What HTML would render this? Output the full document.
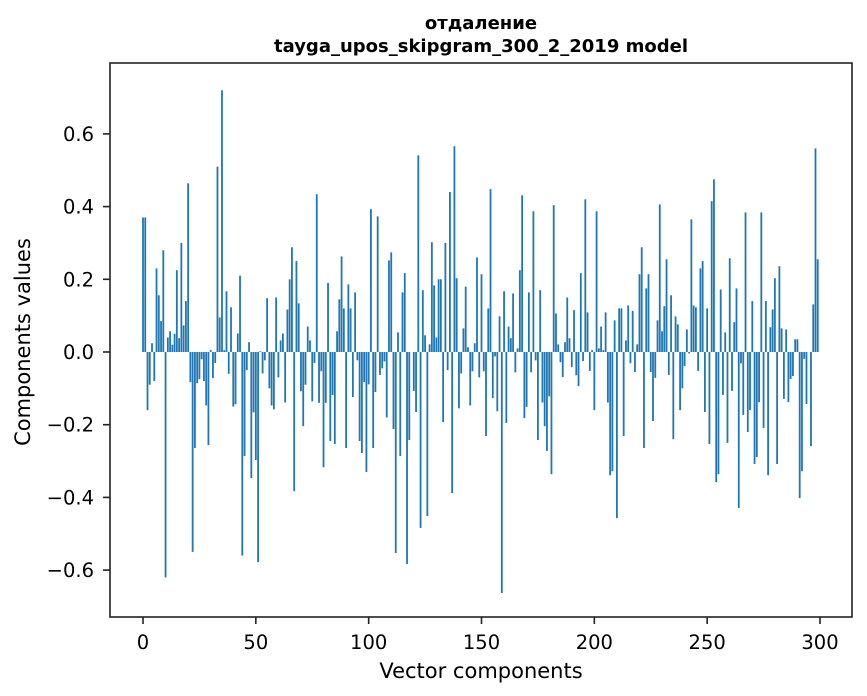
<!DOCTYPE html>
<html><head><meta charset="utf-8"><style>
body{margin:0;background:#fff;}
svg{display:block;font-family:"DejaVu Sans","Liberation Sans",sans-serif;}
</style></head><body>
<svg id="chart" width="867" height="696" viewBox="0 0 867 696" xmlns="http://www.w3.org/2000/svg">
<rect width="867" height="696" fill="#fff"/>
<text x="481" y="29" text-anchor="middle" font-size="18" font-weight="bold">отдаление</text>
<text x="481" y="52" text-anchor="middle" font-size="18" font-weight="bold">tayga_upos_skipgram_300_2_2019 model</text>
<g id="bars"></g>
<g id="axes"></g>
<text x="481" y="678" text-anchor="middle" font-size="21">Vector components</text>
<text transform="translate(30,342) rotate(-90)" text-anchor="middle" font-size="21">Components values</text>
</svg>
<script>
const values = [
0.37,0.37,-0.16,-0.09,0.024,-0.08,0.23,0.156,0.085,0.28,
-0.62,0.04,0.057,0.02,0.05,0.225,0.038,0.30,0.073,0.14,
0.464,-0.083,-0.55,-0.264,-0.086,-0.075,-0.02,-0.08,-0.147,-0.256,
0.005,-0.072,-0.03,0.51,0.095,0.72,0.005,0.167,-0.06,0.123,
-0.15,-0.144,0.051,0.21,-0.56,-0.286,-0.05,0.027,-0.347,-0.166,
-0.297,-0.578,0.002,-0.059,-0.023,0.148,-0.1,-0.147,-0.158,0.15,
-0.07,0.032,0.051,-0.139,0.117,0.2,0.288,-0.383,0.25,0.134,
-0.108,-0.204,-0.09,0.07,0.032,-0.136,-0.03,0.434,-0.14,-0.053,
-0.317,-0.14,0.19,-0.245,-0.118,-0.253,0.057,0.145,0.263,0.12,
-0.264,0.186,0.12,-0.124,0.164,-0.023,-0.245,-0.278,-0.083,-0.33,
-0.089,0.393,-0.264,-0.11,0.373,-0.063,-0.045,-0.026,-0.18,0.252,
0.274,-0.212,-0.553,0.054,-0.286,0.164,0.217,-0.583,-0.242,0.0,
-0.107,-0.165,0.541,-0.484,0.17,0.046,-0.451,0.021,0.302,0.183,
0.04,0.2,0.2,-0.193,0.3,-0.05,0.44,-0.388,0.566,0.203,
-0.155,-0.059,0.065,0.18,0.013,-0.147,-0.053,0.024,0.26,-0.07,
0.214,-0.053,-0.231,0.12,0.448,-0.127,-0.012,-0.163,0.098,-0.663,
0.167,-0.195,0.07,0.038,0.161,-0.056,0.01,0.225,0.431,-0.182,
-0.151,0.164,-0.056,0.387,-0.023,-0.242,0.17,-0.139,-0.204,-0.272,
-0.122,-0.336,0.404,0.106,0.021,-0.028,-0.069,0.027,0.15,0.038,
-0.041,0.115,-0.064,-0.094,0.217,-0.025,0.42,0.109,-0.052,0.005,
-0.16,0.387,0.01,0.07,0.005,0.109,-0.139,-0.339,-0.328,0.087,
-0.457,0.12,0.12,-0.231,0.032,0.128,-0.031,0.113,-0.055,0.021,
0.214,0.288,-0.264,0.175,0.214,-0.055,-0.19,-0.071,0.087,0.406,
0.057,0.126,0.255,-0.063,0.156,-0.24,0.098,0.076,-0.16,-0.1,
-0.039,0.062,-0.004,0.365,0.128,0.123,-0.052,0.23,0.25,-0.165,
0.12,-0.253,0.415,0.475,-0.358,-0.336,0.172,-0.118,0.054,-0.25,
0.258,-0.107,0.082,0.175,-0.429,-0.031,-0.173,0.384,-0.22,-0.16,
0.14,-0.308,-0.289,-0.138,0.384,-0.209,0.14,-0.339,0.068,0.117,
0.203,-0.308,0.236,0.065,-0.129,0.062,-0.138,-0.074,-0.066,0.035,
0.035,-0.402,-0.328,-0.019,-0.143,0.0,-0.259,0.131,0.56,0.255
];
const xTicks = [0,50,100,150,200,250,300];
const yTicks = [-0.6,-0.4,-0.2,0.0,0.2,0.4,0.6];
const yTickLabels = ["\u22120.6","\u22120.4","\u22120.2","0.0","0.2","0.4","0.6"];

const L=110,R=852,T=63,B=617;
const xMin=-14.62,xMax=314.18,yMin=-0.729,yMax=0.795;
const sx=v=>L+(v-xMin)/(xMax-xMin)*(R-L);
const sy=v=>T+(yMax-v)/(yMax-yMin)*(B-T);
const NS="http://www.w3.org/2000/svg";
const bars=document.getElementById('bars');
values.forEach((v,i)=>{
  const r=document.createElementNS(NS,'rect');
  const x0=sx(i-0.4),x1=sx(i+0.4);
  const y0=sy(Math.max(v,0)),y1=sy(Math.min(v,0));
  r.setAttribute('x',x0);r.setAttribute('width',x1-x0);
  r.setAttribute('y',y0);r.setAttribute('height',Math.max(y1-y0,0));
  r.setAttribute('fill','#1f77b4');
  
  
  bars.appendChild(r);
});
const ax=document.getElementById('axes');
const frame=document.createElementNS(NS,'rect');
frame.setAttribute('x',L);frame.setAttribute('y',T);frame.setAttribute('width',R-L);frame.setAttribute('height',B-T);
frame.setAttribute('fill','none');frame.setAttribute('stroke','#222');frame.setAttribute('stroke-width','1.6');


ax.appendChild(frame);
xTicks.forEach(t=>{
  const x=sx(t);
  const l=document.createElementNS(NS,'line');
  l.setAttribute('x1',x);l.setAttribute('x2',x);l.setAttribute('y1',B);l.setAttribute('y2',B+7);l.setAttribute('stroke','#222');l.setAttribute('stroke-width','1.6');
  
  
  ax.appendChild(l);
  const tx=document.createElementNS(NS,'text');
  tx.setAttribute('x',x);tx.setAttribute('y',649);tx.setAttribute('text-anchor','middle');tx.setAttribute('font-size','19.5');
  tx.textContent=t;
  
  
  ax.appendChild(tx);
});
yTicks.forEach((t,i)=>{
  const y=sy(t);
  const l=document.createElementNS(NS,'line');
  l.setAttribute('x1',L-7);l.setAttribute('x2',L);l.setAttribute('y1',y);l.setAttribute('y2',y);l.setAttribute('stroke','#222');l.setAttribute('stroke-width','1.6');
  
  
  ax.appendChild(l);
  const tx=document.createElementNS(NS,'text');
  tx.setAttribute('x',L-16);tx.setAttribute('y',y+7);tx.setAttribute('text-anchor','end');tx.setAttribute('font-size','19.5');
  tx.textContent=yTickLabels[i];
  
  
  ax.appendChild(tx);
});
</script>
</body></html>
